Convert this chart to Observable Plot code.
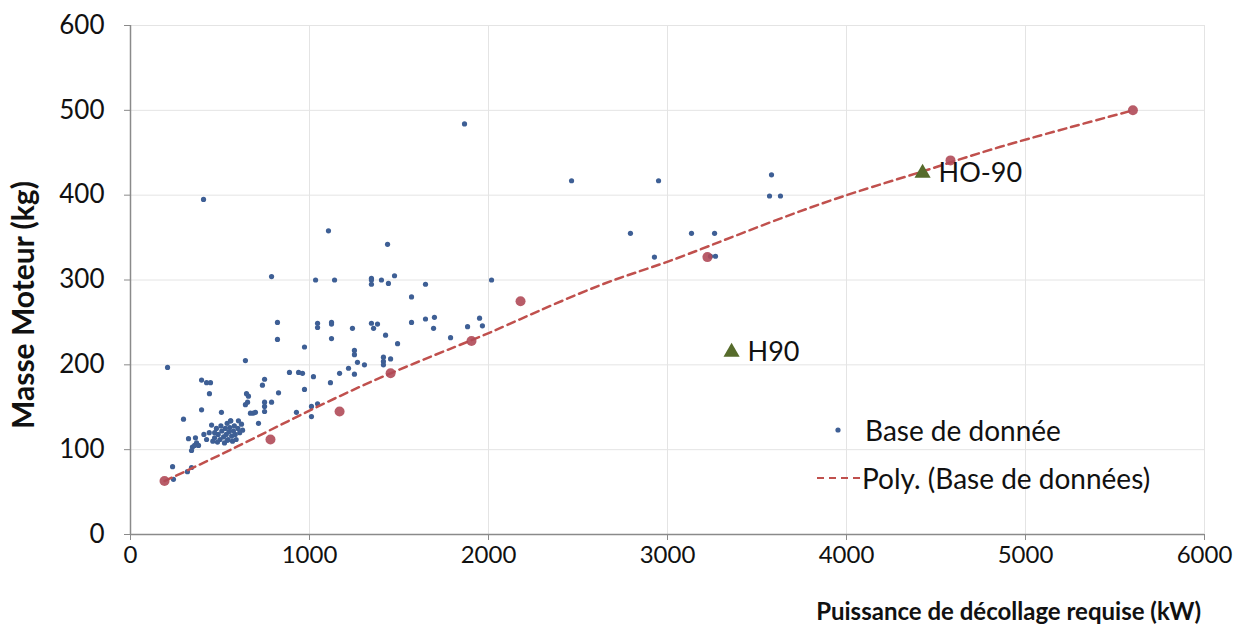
<!DOCTYPE html>
<html><head><meta charset="utf-8">
<script src="https://cdn.jsdelivr.net/npm/d3@7"></script>
<script src="https://cdn.jsdelivr.net/npm/@observablehq/plot@0.6"></script>
<style>
html,body{margin:0;padding:0;background:#fff;}
#wrap{position:relative;width:1243px;height:632px;font-family:Lato,"Open Sans",sans-serif;color:#111;}
#wrap svg{position:absolute;left:0;top:0;}
.legend-row{position:absolute;display:flex;align-items:center;font-size:28px;white-space:nowrap;line-height:1;}
.xtitle{position:absolute;right:42px;top:599px;font-size:24px;font-weight:bold;white-space:nowrap;line-height:1;}
.ytitle{position:absolute;left:22px;top:305px;font-size:30px;font-weight:bold;white-space:nowrap;line-height:1;transform:translate(-50%,-50%) rotate(-90deg);}
</style></head><body><div id="wrap"></div>
<script>
// Base de données (blue points)
const baseKW = [207,235,240,296,318,341,324,363,369,346,341,358,380,397,425,447,441,397,408,508,
  642,648,659,642,654,670,687,698,715,737,749,749,749,749,788,788,821,821,827,
  888,927,939,961,972,972,1011,1011,1022,1034,1045,1045,1045,
  1106,1117,1123,1123,1123,1140,1168,1218,1240,1251,1251,1251,1268,1307,
  1346,1346,1346,1346,1358,1380,1402,1413,1413,1413,1425,1436,1441,1453,1475,1492,
  1570,1570,1648,1648,1693,1698,1788,1866,1883,1950,1966,2017,
  2464,2793,2927,2950,3134,3240,3263,3268,3570,3581,3631,
  453,470,480,490,500,505,510,520,525,530,535,540,545,550,555,560,565,570,575,580,585,590,600,603,610,620,626,486,542,559,470,440,460,410,425];
const baseKg = [197,80,65,136,74,79,113,114,108,103,99,105,105,182,179,179,166,147,395,144,
  205,166,163,153,156,143,143,144,131,176,183,156,151,145,156,304,250,230,167,
  191,144,191,190,221,171,151,139,186,300,249,244,154,
  358,179,250,248,231,300,190,196,243,217,212,189,203,200,
  302,300,295,249,243,248,300,209,204,200,235,342,296,207,305,225,
  280,250,295,254,243,256,232,484,245,255,246,300,
  417,355,327,417,355,328,355,328,399,424,399,
  129,120,125,118,112,128,122,115,108,125,118,131,112,121,126,134,116,110,122,128,118,112,125,134,120,130,123,109,111,134,114,120,110,118,112];
// red highlighted points on the trend
const fitKW = [190,782,1168,1453,1905,2179,3223,4581,5600];
const fitKg = [63,112,145,190,228,275,327,441,500];
// polynomial trendline
const trendKW = [190,560,1000,1453,1905,2179,2626,3006,3500,4000,4425,4860,5600];
const trendKg = [63,100,146,190,229,254,294,322,362,400,428,457,500];
// named engines
const engineNames = ["H90","HO-90"];
const engineKW = [3358,4425];
const engineKg = [215,426];
const xTicks = [0,1000,2000,3000,4000,5000,6000];
const yTicks = [0,100,200,300,400,500,600];
const legendLabels = ["Base de donnée","Poly. (Base de données)"];
const titles = {x:"Puissance de décollage requise (kW)", y:"Masse Moteur (kg)"};

const base = baseKW.map((x,i)=>({x, y: baseKg[i]}));
const fit = fitKW.map((x,i)=>({x, y: fitKg[i]}));
const trend = trendKW.map((x,i)=>({x, y: trendKg[i]}));
const engines = engineNames.map((name,i)=>({name, x: engineKW[i], y: engineKg[i]}));

const chart = Plot.plot({
  width: 1243, height: 632,
  marginLeft: 130, marginRight: 39, marginTop: 25, marginBottom: 98,
  style: {fontFamily: "Lato, 'Open Sans', sans-serif", fontSize: "26px", color: "#111", background: "#fff"},
  x: {domain: [0,6000]},
  y: {domain: [0,600]},
  marks: [
    Plot.gridX(xTicks.filter(d=>d>0), {stroke: "#e4e4e4", strokeOpacity: 1}),
    Plot.gridY(yTicks.filter(d=>d>0), {stroke: "#e4e4e4", strokeOpacity: 1}),
    Plot.ruleX([0], {stroke: "#8a8a8a", strokeWidth: 1.5}),
    Plot.ruleY([0], {stroke: "#8a8a8a", strokeWidth: 1.5}),
    Plot.axisY(yTicks, {tickSize: 6, tickPadding: 20, fontSize: 26, label: null, tickFormat: d => String(d), stroke: "#8a8a8a", fill: "#111"}),
    Plot.axisX(xTicks, {tickSize: 6, tickPadding: 5, fontSize: 24, label: null, tickFormat: d => String(d), stroke: "#8a8a8a", fill: "#111"}),
    Plot.dot(base, {x: "x", y: "y", r: 2.6, fill: "#3e5f95", stroke: "none"}),
    Plot.line(trend, {x: "x", y: "y", curve: "natural", stroke: "#c0504d", strokeWidth: 2.5, strokeDasharray: "8,5"}),
    Plot.dot(fit, {x: "x", y: "y", r: 5, fill: "#b04a58", fillOpacity: 0.9, stroke: "none"}),
    Plot.dot(engines, {x: "x", y: "y", symbol: "triangle", r: 6, fill: "#566b2b", stroke: "none"}),
    Plot.text(engines, {x: "x", y: "y", text: "name", dx: 16, textAnchor: "start", fontSize: 27, fill: "#111"})
  ]
});
const wrap = document.getElementById("wrap");
wrap.appendChild(chart);

// legend
const row1 = document.createElement("div");
row1.className = "legend-row";
row1.style.left = "830px"; row1.style.top = "416px";
row1.innerHTML = `<svg width="16" height="16" style="position:static;margin-right:19px"><circle cx="8" cy="8" r="2.6" fill="#3e5f95"/></svg><span>${legendLabels[0]}</span>`;
wrap.appendChild(row1);
const row2 = document.createElement("div");
row2.className = "legend-row";
row2.style.left = "816px"; row2.style.top = "464px";
row2.innerHTML = `<svg width="45" height="16" style="position:static;margin-right:1px"><line x1="1" x2="45" y1="8" y2="8" stroke="#c0504d" stroke-width="2.2" stroke-dasharray="7,5"/></svg><span>${legendLabels[1]}</span>`;
wrap.appendChild(row2);

const xt = document.createElement("div");
xt.className = "xtitle"; xt.textContent = titles.x; wrap.appendChild(xt);
const yt = document.createElement("div");
yt.className = "ytitle"; yt.textContent = titles.y; wrap.appendChild(yt);
</script></body></html>
